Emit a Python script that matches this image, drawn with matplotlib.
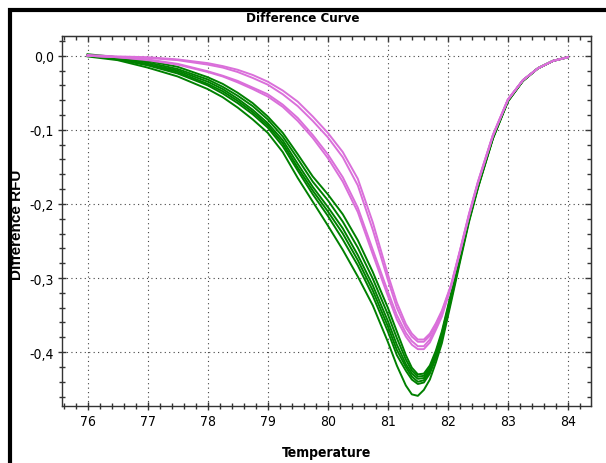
import matplotlib
matplotlib.use("Agg")
import matplotlib.pyplot as plt
from matplotlib.ticker import MultipleLocator, FuncFormatter
from matplotlib.patches import Rectangle

# temperature grid (denser around the dip)
temps = [76.0, 76.5, 77.0, 77.5, 78.0, 78.25, 78.5, 78.75, 79.0, 79.25, 79.5,
         79.75, 80.0, 80.25, 80.5, 80.75, 81.0, 81.15, 81.3, 81.4, 81.5,
         81.6, 81.7, 81.8, 81.9, 82.05, 82.2, 82.35, 82.5, 82.75, 83.0,
         83.25, 83.5, 83.75, 84.0]

# green samples
green_1 = [0.002, -0.002, -0.007, -0.015, -0.029, -0.038, -0.050, -0.064, -0.082, -0.104, -0.133,
           -0.163, -0.187, -0.214, -0.249, -0.292, -0.340, -0.372, -0.404, -0.421, -0.430,
           -0.429, -0.418, -0.398, -0.372, -0.322, -0.270, -0.219, -0.175, -0.110, -0.060,
           -0.033, -0.017, -0.007, -0.002]
green_2 = [0.001, -0.003, -0.009, -0.018, -0.032, -0.042, -0.054, -0.068, -0.086, -0.109, -0.139,
           -0.170, -0.195, -0.224, -0.259, -0.301, -0.349, -0.381, -0.410, -0.425, -0.433,
           -0.432, -0.421, -0.401, -0.375, -0.324, -0.272, -0.220, -0.176, -0.110, -0.060,
           -0.033, -0.017, -0.007, -0.002]
green_3 = [0.001, -0.004, -0.011, -0.020, -0.035, -0.045, -0.058, -0.073, -0.091, -0.114, -0.146,
           -0.177, -0.204, -0.233, -0.269, -0.310, -0.358, -0.390, -0.416, -0.429, -0.436,
           -0.435, -0.424, -0.404, -0.378, -0.326, -0.273, -0.221, -0.176, -0.111, -0.061,
           -0.034, -0.017, -0.007, -0.002]
green_4 = [0.000, -0.004, -0.012, -0.022, -0.038, -0.048, -0.061, -0.076, -0.094, -0.118, -0.151,
           -0.182, -0.210, -0.240, -0.276, -0.317, -0.365, -0.397, -0.420, -0.433, -0.440,
           -0.438, -0.426, -0.406, -0.380, -0.328, -0.275, -0.222, -0.177, -0.111, -0.061,
           -0.034, -0.017, -0.007, -0.002]
green_5 = [0.000, -0.005, -0.013, -0.024, -0.040, -0.051, -0.064, -0.079, -0.097, -0.122, -0.155,
           -0.187, -0.216, -0.248, -0.283, -0.324, -0.372, -0.404, -0.425, -0.437, -0.443,
           -0.441, -0.429, -0.408, -0.382, -0.330, -0.276, -0.223, -0.178, -0.111, -0.061,
           -0.034, -0.017, -0.007, -0.002]
green_6 = [-0.001, -0.006, -0.016, -0.028, -0.045, -0.056, -0.070, -0.086, -0.104, -0.130, -0.165,
           -0.197, -0.229, -0.262, -0.298, -0.337, -0.386, -0.418, -0.445, -0.457, -0.459,
           -0.451, -0.437, -0.414, -0.388, -0.334, -0.279, -0.225, -0.179, -0.112, -0.062,
           -0.034, -0.017, -0.007, -0.002]

# pink samples
pink_1 = [0.001, -0.001, -0.002, -0.005, -0.010, -0.014, -0.019, -0.026, -0.035, -0.047, -0.062,
          -0.082, -0.104, -0.130, -0.166, -0.225, -0.295, -0.333, -0.362, -0.375, -0.383,
          -0.383, -0.375, -0.361, -0.344, -0.310, -0.263, -0.214, -0.170, -0.107, -0.059,
          -0.033, -0.017, -0.007, -0.002]
pink_2 = [0.000, -0.002, -0.003, -0.006, -0.012, -0.016, -0.022, -0.030, -0.039, -0.052, -0.068,
          -0.088, -0.110, -0.137, -0.175, -0.235, -0.302, -0.340, -0.367, -0.379, -0.386,
          -0.386, -0.378, -0.363, -0.346, -0.311, -0.264, -0.215, -0.171, -0.107, -0.059,
          -0.033, -0.017, -0.007, -0.002]
pink_3 = [0.000, -0.002, -0.005, -0.011, -0.021, -0.027, -0.034, -0.043, -0.052, -0.066, -0.084,
          -0.107, -0.133, -0.164, -0.205, -0.262, -0.318, -0.350, -0.374, -0.385, -0.392,
          -0.392, -0.383, -0.367, -0.349, -0.312, -0.265, -0.216, -0.172, -0.108, -0.059,
          -0.033, -0.017, -0.007, -0.002]
pink_4 = [0.000, -0.002, -0.006, -0.012, -0.022, -0.028, -0.036, -0.045, -0.055, -0.069, -0.088,
          -0.111, -0.138, -0.170, -0.211, -0.268, -0.324, -0.356, -0.379, -0.390, -0.396,
          -0.396, -0.387, -0.370, -0.352, -0.313, -0.266, -0.217, -0.172, -0.108, -0.060,
          -0.033, -0.017, -0.007, -0.002]

greens = [green_1, green_2, green_3, green_4, green_5, green_6]
pinks = [pink_1, pink_2, pink_3, pink_4]

fig = plt.figure(figsize=(6.06, 4.64), dpi=100)
ax = fig.add_axes([62 / 606, 1 - 407 / 464, 528.6 / 606, 370 / 464])

for g in greens:
    ax.plot(temps, g, color="#008000", lw=1.4)
for p in pinks:
    ax.plot(temps, p, color="#DA6FDA", lw=1.4)

ax.set_xlim(75.574, 84.377)
ax.set_ylim(-0.4727, 0.0266)

ax.xaxis.set_major_locator(MultipleLocator(1))
ax.xaxis.set_minor_locator(MultipleLocator(0.2))
ax.yaxis.set_major_locator(MultipleLocator(0.1))
ax.yaxis.set_minor_locator(MultipleLocator(0.02))


def comma(v, pos):
    s = f"{v:.1f}".replace(".", ",")
    return "0,0" if s == "-0,0" else s


ax.yaxis.set_major_formatter(FuncFormatter(comma))
ax.xaxis.set_major_formatter(FuncFormatter(lambda v, p: f"{v:.0f}"))

ax.grid(True, which="major", color="#444444", linestyle=(0, (1, 3)), lw=0.8)

for s in ax.spines.values():
    s.set_color("#333333")
    s.set_linewidth(1.0)

ax.tick_params(which="major", direction="inout", length=6, width=1, color="#333333",
               top=False, right=False, labelsize=10, pad=3)
ax.tick_params(which="minor", direction="inout", length=4, width=1, color="#333333",
               top=False, right=False)
for lab in ax.get_xticklabels() + ax.get_yticklabels():
    lab.set_family("DejaVu Sans")
    lab.set_stretch("condensed")

# inward ticks on top and right
top = ax.secondary_xaxis("top")
top.xaxis.set_major_locator(MultipleLocator(1))
top.xaxis.set_minor_locator(MultipleLocator(0.2))
top.tick_params(which="both", direction="in", labeltop=False, color="#333333", width=1)
top.tick_params(which="major", length=4)
top.tick_params(which="minor", length=3)
right = ax.secondary_yaxis("right")
right.yaxis.set_major_locator(MultipleLocator(0.1))
right.yaxis.set_minor_locator(MultipleLocator(0.02))
right.tick_params(which="both", direction="in", labelright=False, color="#333333", width=1)
right.tick_params(which="major", length=4)
right.tick_params(which="minor", length=3)
for sec in (top, right):
    for s in sec.spines.values():
        s.set_color("#333333")

fig.text(0.5, 1 - 19 / 464, "Difference Curve", ha="center", va="center",
         fontsize=9.5, fontweight="bold", family="DejaVu Sans", stretch="condensed")
fig.text((62 + 590.6) / 2 / 606, 1 - 453 / 464, "Temperature", ha="center", va="center",
         fontsize=10, fontweight="bold", family="DejaVu Sans", stretch="condensed")
fig.text(17 / 606, 1 - 225 / 464, "Difference RFU", ha="center", va="center",
         rotation=90, fontsize=11, fontweight="bold", family="Liberation Sans")

# thick outer frame running off the right and bottom edges
fig.patches.append(Rectangle((9.5 / 606, -0.2), 1.2, 0.2 + 1 - 10.5 / 464, fill=False,
                             edgecolor="black", lw=3, transform=fig.transFigure))

fig.savefig("out.png", dpi=100)
